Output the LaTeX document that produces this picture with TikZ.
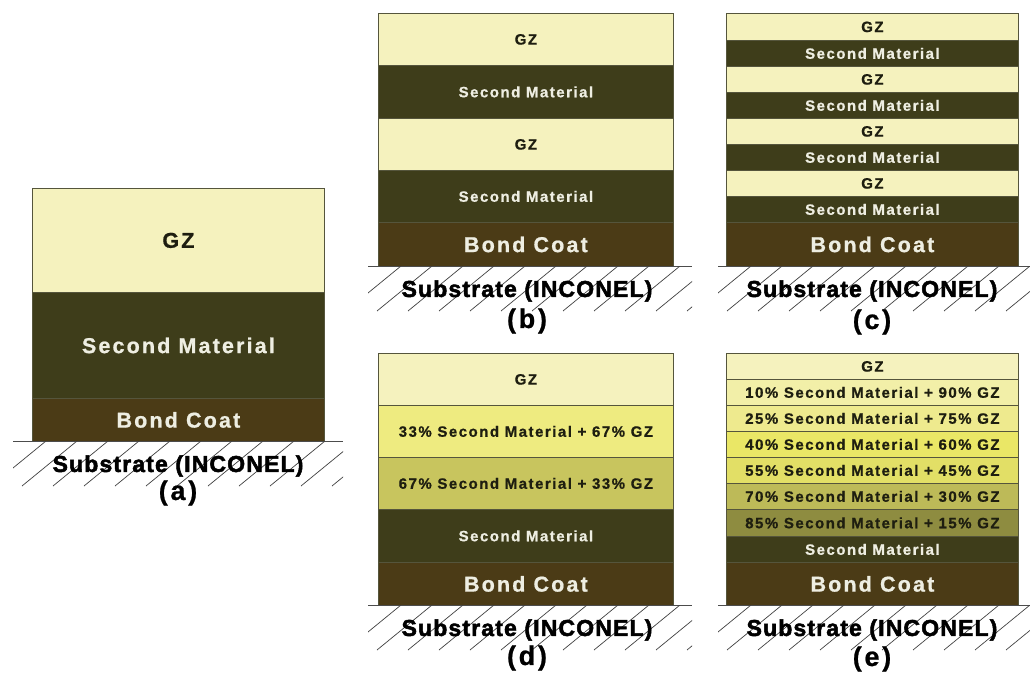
\documentclass[tikz,border=0pt]{standalone}
\usepackage{fontspec}
\setmainfont{Liberation Sans}[LetterSpace=10, BoldFeatures={FakeBold=0.8}]
\newfontfamily\subfont{Liberation Sans Bold}[FakeBold=2.2, LetterSpace=5]
\definecolor{gz}{HTML}{F5F2BE}
\definecolor{sm}{HTML}{3E3D1A}
\definecolor{bc}{HTML}{4B3B16}
\definecolor{bord}{HTML}{55553C}
\definecolor{lt}{HTML}{EEEEE2}
\definecolor{dk}{HTML}{1E1E10}
\definecolor{mA}{HTML}{F2EFA8}
\definecolor{mB}{HTML}{EEEA8E}
\definecolor{mC}{HTML}{EAE766}
\definecolor{mD}{HTML}{E2DF66}
\definecolor{mE}{HTML}{BDBA58}
\definecolor{mF}{HTML}{8E8C40}
\definecolor{dA}{HTML}{EEEB80}
\definecolor{dB}{HTML}{C8C55E}
\tikzset{
  layer/.style={draw=bord, line width=0.8pt, inner sep=0pt, anchor=north west},
  big/.style={font=\fontsize{21.5}{24}\selectfont\bfseries},
  small/.style={font=\fontsize{15}{17}\selectfont\bfseries},
  subst/.style={font=\fontsize{23}{26}\selectfont\subfont, text=black},
  plabel/.style={font=\fontsize{27}{29}\selectfont\bfseries, text=black},
  hatch/.style={line width=0.7pt, draw=black!75},
  ground/.style={line width=1pt, draw=black!70}
}
% \lay{name}{x}{ytop}{w}{h}{fill}{textcol}{style}{text}
\newcommand\lay[9]{\node[layer, fill=#6, text=#7, #8, minimum width=#4pt, minimum height=#5pt] (#1) at (#2,#3) {#9};}
% \substr{prefix}{xleft}{xright}{yground}{xcenter}
\newcommand\substr[5]{%
  \draw[ground] (#1gl) -- (#1gr);
  \begin{scope}
    \clip (#2,#4) rectangle (#3,#4+46);
    \foreach \i in {0,...,11} {\draw[hatch] (#2-22+31*\i,#4+45) -- ++(55,-45);}
  \end{scope}
  \node[subst] (#1s) at (#5,#4+25) {Substrate (INCONEL)};
}
\begin{document}
\begin{tikzpicture}[x=1pt,y=-1pt]
\useasboundingbox (0,0) rectangle (1030,675);
% ---------- (a)
\lay{a1}{32}{188}{292}{104}{gz}{dk}{big}{GZ}
\lay{a2}{32}{292}{292}{106}{sm}{lt}{big}{Second Material}
\lay{a3}{32}{398}{292}{43}{bc}{lt}{big}{Bond Coat}
\coordinate (agl) at (13,441); \coordinate (agr) at (343,441);
\substr{a}{13}{343}{441}{178}
\node[plabel] (alab) at (178,493) {(a)};
% ---------- (b)
\lay{b1}{378}{13}{295}{52}{gz}{dk}{small}{GZ}
\lay{b2}{378}{65}{295}{53}{sm}{lt}{small}{Second Material}
\lay{b3}{378}{118}{295}{52}{gz}{dk}{small}{GZ}
\lay{b4}{378}{170}{295}{52}{sm}{lt}{small}{Second Material}
\lay{b5}{378}{222}{295}{44}{bc}{lt}{big}{Bond Coat}
\coordinate (bgl) at (368,266); \coordinate (bgr) at (692,266);
\substr{b}{368}{692}{266}{527}
\node[plabel] (blab) at (527,321) {(b)};
% ---------- (c)
\lay{c1}{726}{13}{292}{27}{gz}{dk}{small}{GZ}
\lay{c2}{726}{40}{292}{26}{sm}{lt}{small}{Second Material}
\lay{c3}{726}{66}{292}{26}{gz}{dk}{small}{GZ}
\lay{c4}{726}{92}{292}{26}{sm}{lt}{small}{Second Material}
\lay{c5}{726}{118}{292}{26}{gz}{dk}{small}{GZ}
\lay{c6}{726}{144}{292}{26}{sm}{lt}{small}{Second Material}
\lay{c7}{726}{170}{292}{26}{gz}{dk}{small}{GZ}
\lay{c8}{726}{196}{292}{26}{sm}{lt}{small}{Second Material}
\lay{c9}{726}{222}{292}{44}{bc}{lt}{big}{Bond Coat}
\coordinate (cgl) at (718,266); \coordinate (cgr) at (1030,266);
\substr{c}{718}{1030}{266}{872}
\node[plabel] (clab) at (872,322) {(c)};
% ---------- (d)
\lay{d1}{378}{353}{295}{52}{gz}{dk}{small}{GZ}
\lay{d2}{378}{405}{295}{52}{dA}{dk}{small}{33\% Second Material + 67\% GZ}
\lay{d3}{378}{457}{295}{52}{dB}{dk}{small}{67\% Second Material + 33\% GZ}
\lay{d4}{378}{509}{295}{53}{sm}{lt}{small}{Second Material}
\lay{d5}{378}{562}{295}{43}{bc}{lt}{big}{Bond Coat}
\coordinate (dgl) at (368,605); \coordinate (dgr) at (692,605);
\substr{d}{368}{692}{605}{527}
\node[plabel] (dlab) at (527,658) {(d)};
% ---------- (e)
\lay{e1}{726}{353}{292}{26}{gz}{dk}{small}{GZ}
\lay{e2}{726}{379}{292}{26}{mA}{dk}{small}{10\% Second Material + 90\% GZ}
\lay{e3}{726}{405}{292}{26}{mB}{dk}{small}{25\% Second Material + 75\% GZ}
\lay{e4}{726}{431}{292}{26}{mC}{dk}{small}{40\% Second Material + 60\% GZ}
\lay{e5}{726}{457}{292}{26}{mD}{dk}{small}{55\% Second Material + 45\% GZ}
\lay{e6}{726}{483}{292}{26}{mE}{dk}{small}{70\% Second Material + 30\% GZ}
\lay{e7}{726}{509}{292}{27}{mF}{dk}{small}{85\% Second Material + 15\% GZ}
\lay{e8}{726}{536}{292}{26}{sm}{lt}{small}{Second Material}
\lay{e9}{726}{562}{292}{43}{bc}{lt}{big}{Bond Coat}
\coordinate (egl) at (718,605); \coordinate (egr) at (1030,605);
\substr{e}{718}{1030}{605}{872}
\node[plabel] (elab) at (872,659) {(e)};
\end{tikzpicture}
\end{document}
